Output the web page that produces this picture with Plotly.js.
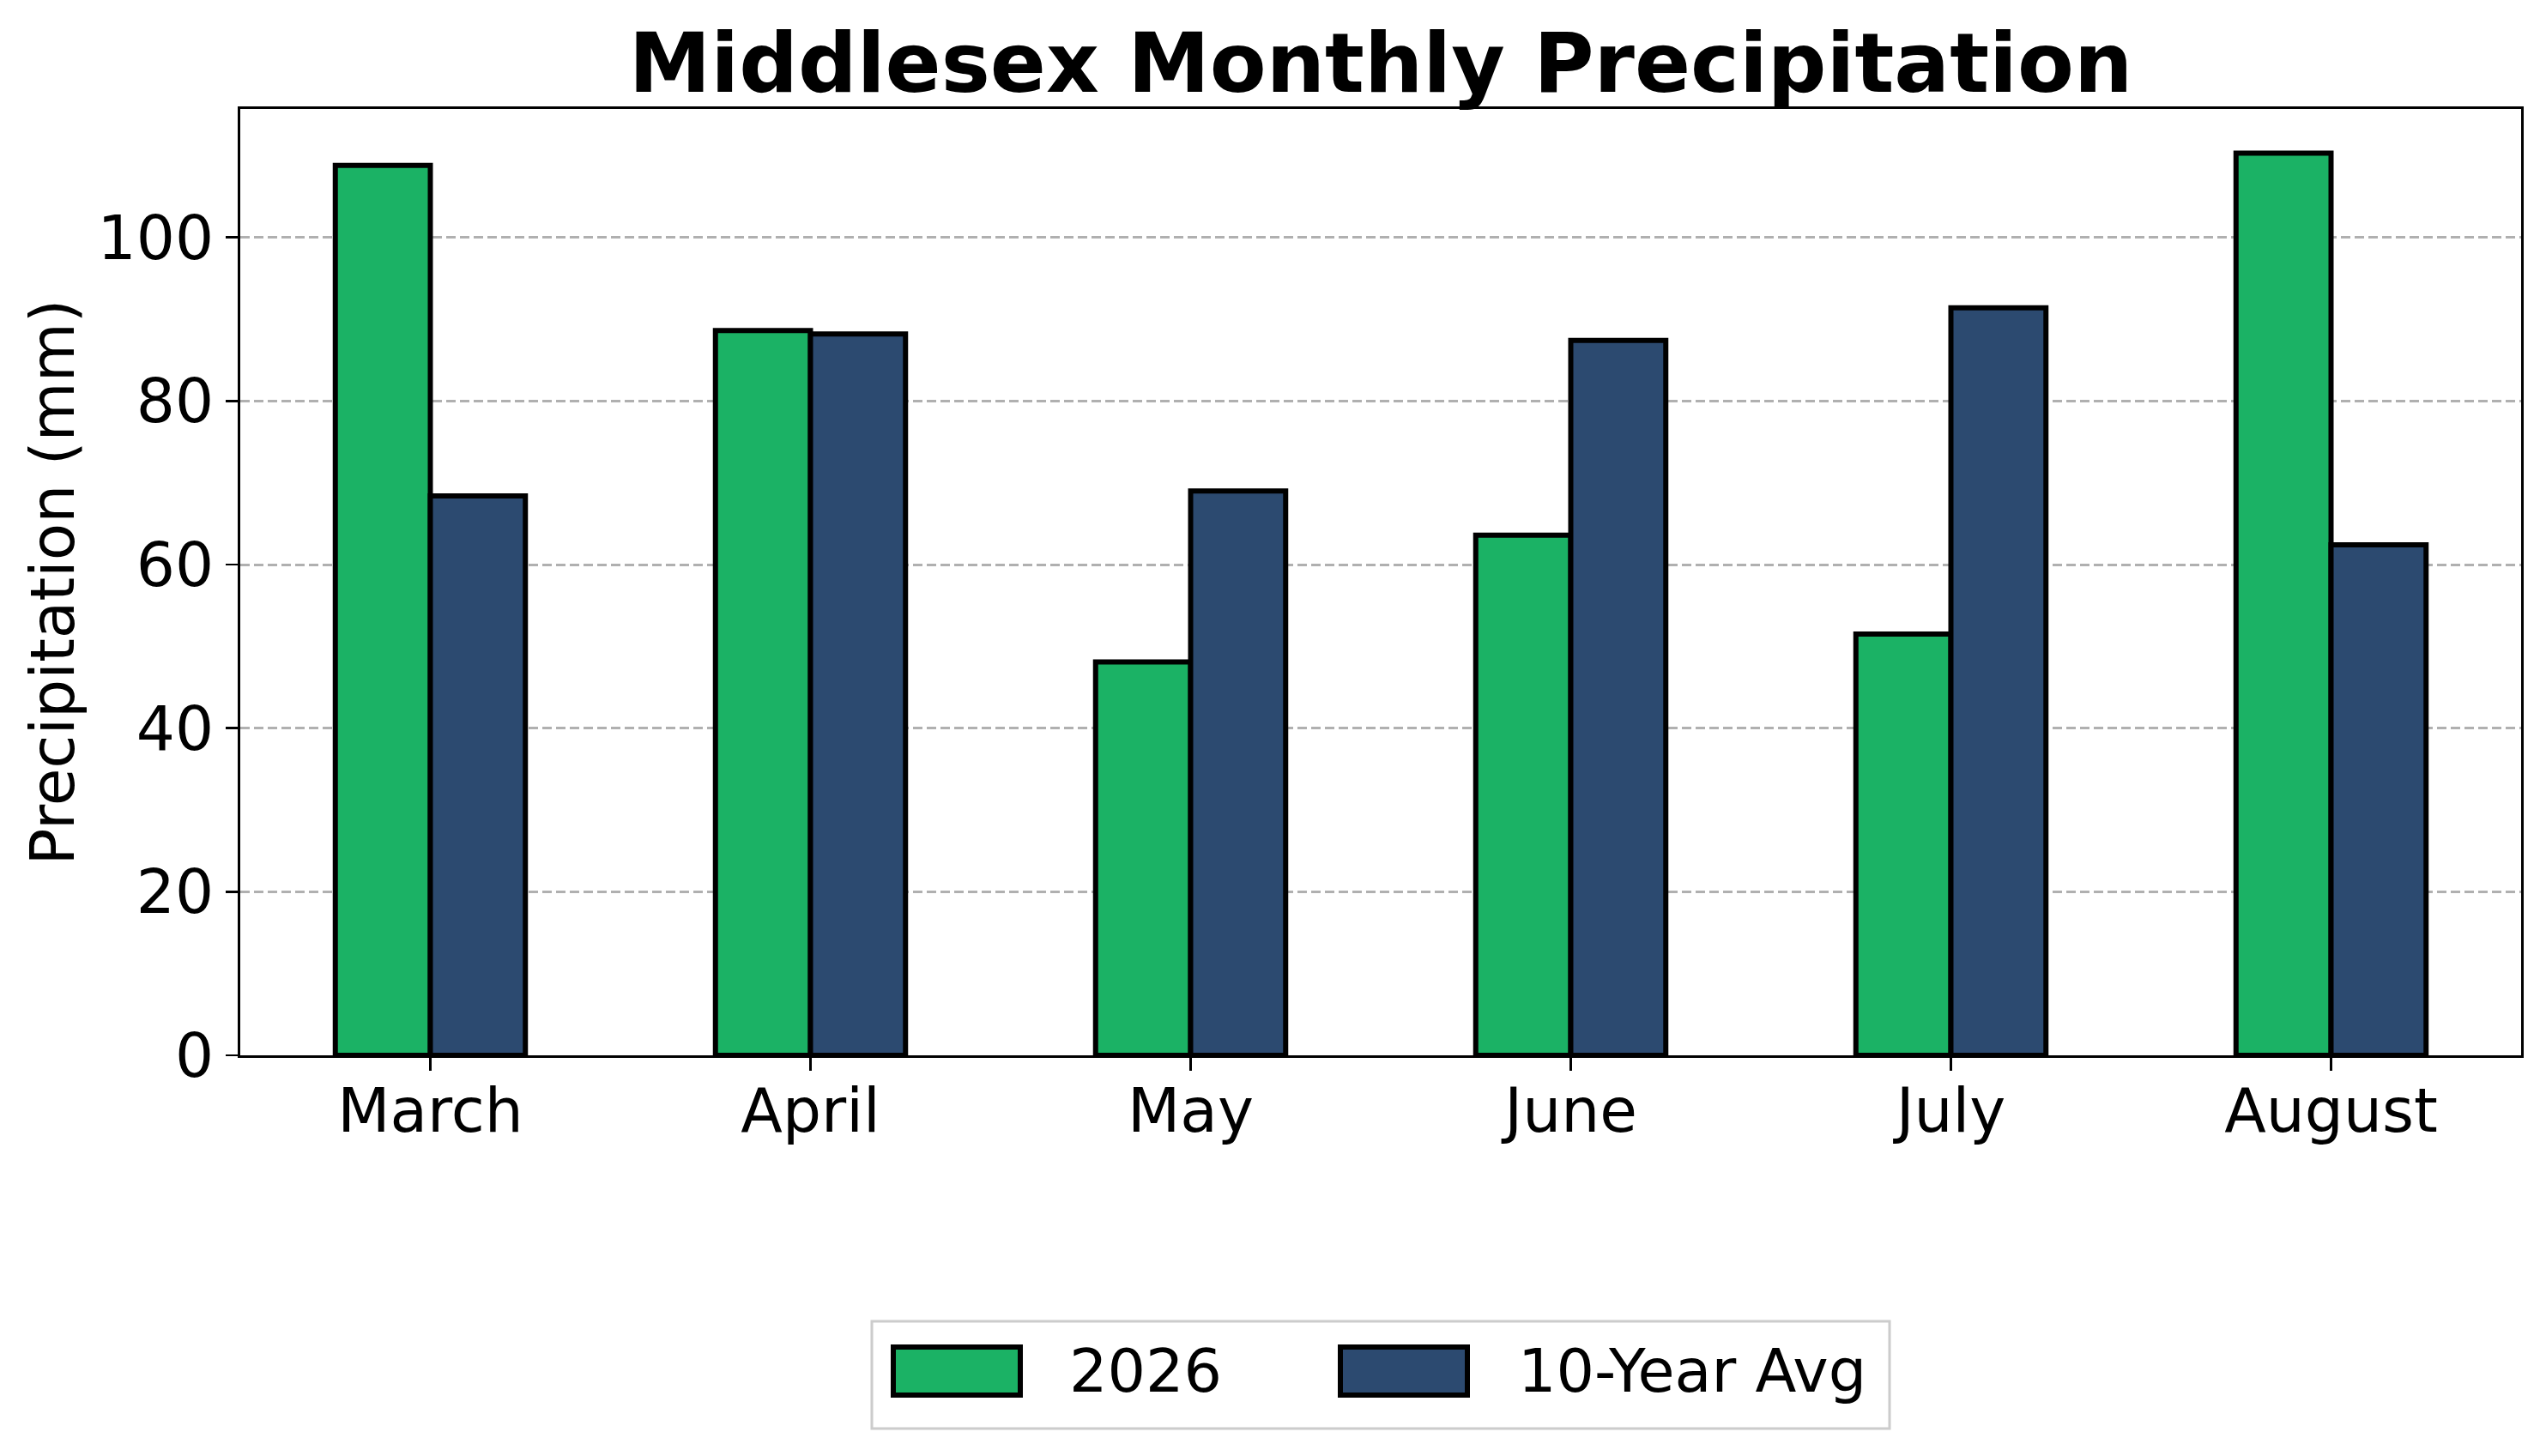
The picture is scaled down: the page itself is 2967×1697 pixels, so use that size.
<!DOCTYPE html>
<html>
<head>
<meta charset="utf-8">
<script src="https://cdn.plot.ly/plotly-3.0.1.min.js"></script>
<style>
  html, body { margin: 0; padding: 0; background: #fff; }
  #chart { width: 2967px; height: 1697px; }
</style>
</head>
<body>
<div id="chart"></div>
<script>
// data
const months = ["March", "April", "May", "June", "July", "August"];
const precip2026 = [108.8, 88.6, 48.1, 63.6, 51.5, 110.3];
const tenYearAvg = [68.4, 88.2, 69.0, 87.4, 91.4, 62.4];
const seriesNames = ["2026", "10-Year Avg"];
const seriesColors = ["#1bb265", "#2c4a70"];
const yTicks = [0, 20, 40, 60, 80, 100];

const W = 2967, H = 1697;
const M = { l: 280, r: 29, t: 127, b: 467 };
const font = "DejaVu Sans";

// helpers: page pixel -> paper coords (used only for the hand-made legend)
const plotW = W - M.l - M.r, plotH = H - M.t - M.b;
const px = (x) => (x - M.l) / plotW;
const py = (y) => (H - M.b - y) / plotH;

const traces = [precip2026, tenYearAvg].map((vals, i) => ({
  type: "bar",
  name: seriesNames[i],
  x: months,
  y: vals,
  marker: { color: seriesColors[i], line: { color: "#000", width: 6 } },
  showlegend: false,
}));

// legend box drawn as shapes, matplotlib style
let shapes = [
  { type: "rect", xref: "paper", yref: "paper", x0: px(1016), x1: px(2202), y0: py(1540), y1: py(1665),
    line: { color: "#cccccc", width: 3 }, fillcolor: "#fff", layer: "above" },
];
let annotations = [];
const swatchX = [1041, 1562];
const labelX = [1244, 1767];
seriesNames.forEach((name, i) => {
  shapes.push({ type: "rect", xref: "paper", yref: "paper",
    x0: px(swatchX[i]), x1: px(swatchX[i] + 148), y0: py(1570), y1: py(1626),
    fillcolor: seriesColors[i], line: { color: "#000", width: 6 }, layer: "above" });
  annotations.push({ xref: "paper", yref: "paper", x: px(labelX[i]), y: py(1598),
    xanchor: "left", yanchor: "middle", showarrow: false, text: name,
    font: { family: font, size: 70, color: "#000" } });
});

const layout = {
  width: W, height: H,
  margin: M,
  paper_bgcolor: "#fff", plot_bgcolor: "#fff",
  font: { family: font, color: "#000" },
  title: {
    text: "Middlesex Monthly Precipitation",
    font: { family: font, size: 96, weight: "bold", color: "#000" },
    xref: "paper", x: 0.5, xanchor: "center",
    yref: "container", y: 1 - 73 / H, yanchor: "middle",
  },
  barmode: "group",
  bargap: 0.5,
  bargroupgap: 0,
  xaxis: {
    range: [-0.5, 5.5],
    showline: true, linecolor: "#000", linewidth: 2.7, mirror: true,
    ticks: "outside", ticklen: 15, tickwidth: 2.7, tickcolor: "#000",
    tickfont: { family: font, size: 71 },
    ticklabelstandoff: -14,
    showgrid: false, zeroline: false,
  },
  yaxis: {
    range: [0, 115.7],
    tickvals: yTicks,
    showline: true, linecolor: "#000", linewidth: 2.7, mirror: true,
    ticks: "outside", ticklen: 14, tickwidth: 2.7, tickcolor: "#000",
    tickfont: { family: font, size: 71 },
    showgrid: true, gridcolor: "#b0b0b0", gridwidth: 3, griddash: "11px,5px",
    zeroline: false,
    title: { text: "Precipitation (mm)", font: { family: font, size: 71 }, standoff: 4 },
  },
  shapes: shapes,
  annotations: annotations,
};

Plotly.newPlot("chart", traces, layout, { displayModeBar: false, staticPlot: true });
</script>
</body>
</html>
